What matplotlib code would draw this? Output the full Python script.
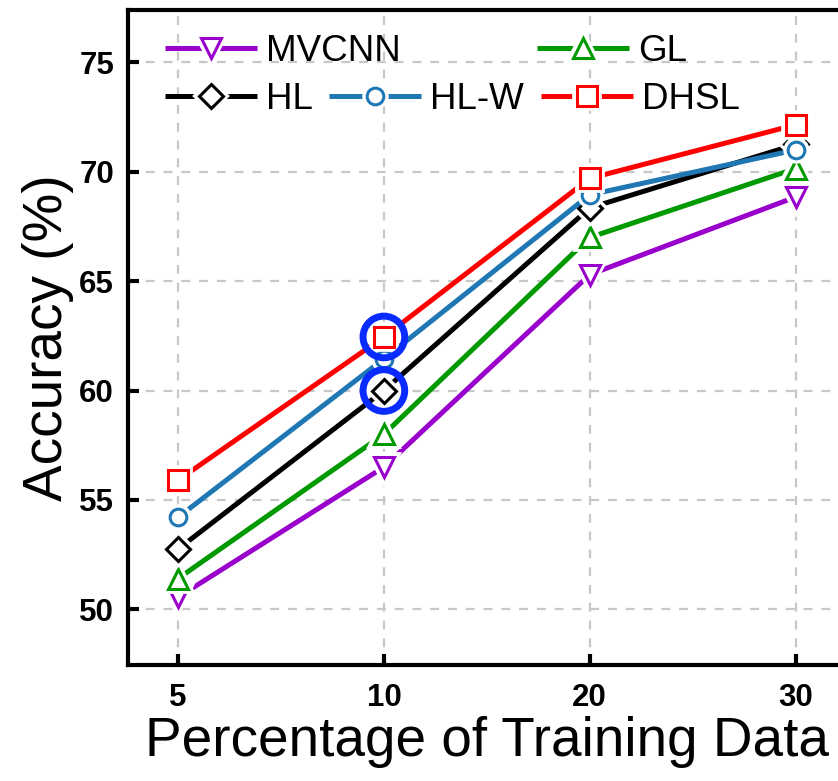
import numpy as np
import matplotlib.pyplot as plt
from matplotlib.legend_handler import HandlerTuple

plt.rcParams['font.family'] = ['Liberation Sans', 'DejaVu Sans']

# Training data percentages (evenly spaced categories)
x_labels = ['5', '10', '20', '30']

mvcnn = [50.55, 56.5, 65.3, 68.85]
gl = [51.4, 58.0, 67.0, 70.15]
hl = [52.75, 60.0, 68.35, 71.25]
hlw = [54.2, 61.45, 68.95, 71.0]
dhsl = [55.9, 62.45, 69.7, 72.15]

names = ['MVCNN', 'GL', 'HL', 'HL-W', 'DHSL']
colors = ['#9900cc', '#009900', '#000000', '#1f77b4', '#ff0000']
markers = ['v', '^', 'D', 'o', 's']
msizes = [14, 14, 12, 12, 14]

# points highlighted with blue rings (x index, value)
ring_x = [1, 1]
ring_y = [62.45, 60.0]

x = np.arange(len(x_labels))

fig = plt.figure(figsize=(8.38, 7.81), dpi=100)
ax = fig.add_axes([128 / 838, 1 - 665 / 781, 717 / 838, 655 / 781])

handles = []
for i, (ys, c, m, ms) in enumerate(zip([mvcnn, gl, hl, hlw, dhsl], colors, markers, msizes)):
    z = 3 + i
    ln, = ax.plot(x, ys, '-', color=c, lw=3.6, zorder=z, solid_capstyle='butt')
    halo, = ax.plot(x, ys, ls='none', marker=m, ms=ms, mfc='white', mec='white',
                    mew=7, zorder=z + 0.1)
    mk, = ax.plot(x, ys, ls='none', marker=m, ms=ms, mfc='white', mec=c,
                  mew=2.2, zorder=z + 0.2)
    handles.append((ln, halo, mk))

ax.scatter(ring_x, ring_y, s=900, facecolor='none', edgecolor='#0a2bff',
           linewidth=5, zorder=20)

ax.set_xlim(-0.243, 3.24)
ax.set_ylim(47.45, 77.4)
ax.set_xticks(x)
ax.set_xticklabels(x_labels)
ax.set_yticks([50, 55, 60, 65, 70, 75])

ax.grid(True, linestyle=(0, (4, 4)), color='#c8c8c8', lw=1.6)
for s in ax.spines.values():
    s.set_linewidth(3)
ax.tick_params(direction='in', length=8, width=3, labelsize=22.5)
ax.tick_params(axis='x', pad=13)
ax.tick_params(axis='y', pad=10)
for lab in ax.get_xticklabels() + ax.get_yticklabels():
    lab.set_fontweight('bold')

ax.set_xlabel('Percentage of Training Data', fontsize=39.5, labelpad=2)
ax.set_ylabel('Accuracy (%)', fontsize=39.5, labelpad=4)

hmap = {tuple: HandlerTuple(ndivide=1)}
leg1 = ax.legend([handles[0], handles[1]], ['MVCNN', 'GL'], ncol=2, frameon=False,
                 fontsize=26.5, handlelength=2.5, handletextpad=0.25, columnspacing=3.7,
                 loc='upper left', bbox_to_anchor=(0.015, 1.003), handler_map=hmap,
                 borderaxespad=0.3)
ax.add_artist(leg1)
ax.legend([handles[2], handles[3], handles[4]], ['HL', 'HL-W', 'DHSL'], ncol=3,
          frameon=False, fontsize=26.5, handlelength=2.5, handletextpad=0.25,
          columnspacing=0.45, loc='upper left', bbox_to_anchor=(0.015, 0.93),
          handler_map=hmap, borderaxespad=0.3)

fig.savefig('out.png', dpi=100)
